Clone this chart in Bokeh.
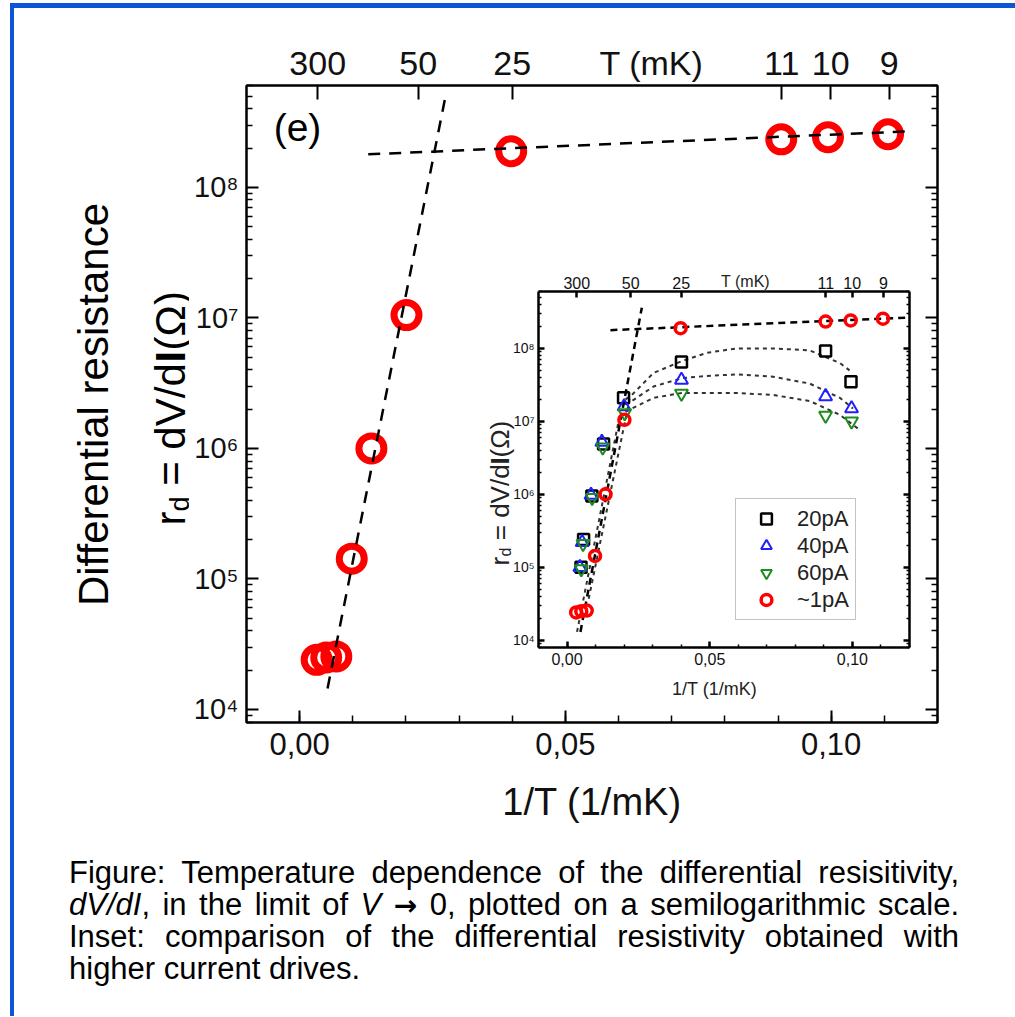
import math
from bokeh.plotting import figure
from bokeh.models import (Range1d, LogScale, LinearAxis, LogAxis, FixedTicker,
                          Label, Legend, LegendItem, Div)
from bokeh.layouts import column, row
from bokeh.embed import file_html
from bokeh.resources import INLINE

# ---------------- data ----------------
X_TICKS = [0.0, 0.05, 0.10]
X_TICK_LABELS = ["0,00", "0,05", "0,10"]
T_TICK_POS = [0.0034, 0.0223, 0.0400, 0.0907, 0.0999, 0.1109]
T_TICK_LABELS = ["300", "50", "25", "11", "10", "9"]
Y_TICKS = [1e4, 1e5, 1e6, 1e7, 1e8]
Y_TICK_LABELS = ["10\u2074", "10\u2075", "10\u2076", "10\u2077", "10\u2078"]

invT_1pA = [0.0032, 0.0050, 0.0069, 0.0098, 0.0135, 0.0201, 0.0398, 0.0906, 0.0994, 0.1107]
rd_1pA = [2.4e4, 2.5e4, 2.55e4, 1.43e5, 1.0e6, 1.05e7, 1.89e8, 2.33e8, 2.42e8, 2.55e8]

invT_20pA = [0.0049, 0.0058, 0.0087, 0.0128, 0.0198, 0.0401, 0.0906, 0.0995]
rd_20pA = [1.0e5, 2.4e5, 9.5e5, 4.9e6, 2.1e7, 6.5e7, 9.2e7, 3.5e7]
invT_40pA = [0.0045, 0.0053, 0.0084, 0.0122, 0.0200, 0.0401, 0.0906, 0.0997]
rd_40pA = [1.0e5, 2.2e5, 9.8e5, 5.2e6, 1.6e7, 3.7e7, 2.2e7, 1.5e7]
invT_60pA = [0.0050, 0.0056, 0.0088, 0.0125, 0.0202, 0.0401, 0.0906, 0.0997]
rd_60pA = [9.5e4, 2.1e5, 9.0e5, 4.4e6, 1.3e7, 2.4e7, 1.2e7, 1.0e7]

steep_x = [0.00525, 0.0274]
steep_y = [1.45e4, 4.9e8]
flat_x = [0.0129, 0.1152]
flat_y = [1.79e8, 2.69e8]

in_steep_x = [0.0047, 0.0262]
in_steep_y = [1.3e4, 3.6e8]
in_flat_x = [0.0152, 0.1189]
in_flat_y = [1.78e8, 2.63e8]

fit20_x = [0.0205, 0.0227, 0.0303, 0.0402, 0.0490, 0.0594, 0.0722, 0.0850, 0.0956, 0.0990]
fit20_y = [2.0e7, 2.3e7, 4.6e7, 6.7e7, 8.7e7, 1.0e8, 1.0e8, 9.4e7, 6.3e7, 5.0e7]
fit40_x = [0.0205, 0.0227, 0.0303, 0.0402, 0.0490, 0.0594, 0.0722, 0.0850, 0.0956, 0.1002]
fit40_y = [1.7e7, 1.9e7, 3.0e7, 3.9e7, 4.2e7, 4.4e7, 4.1e7, 3.3e7, 2.1e7, 1.5e7]
fit60_x = [0.0205, 0.0227, 0.0303, 0.0402, 0.0490, 0.0594, 0.0722, 0.0850, 0.0956, 0.1026]
fit60_y = [1.35e7, 1.5e7, 2.1e7, 2.45e7, 2.45e7, 2.45e7, 2.3e7, 1.9e7, 1.23e7, 7.6e6]
steepA_x = [0.0035, 0.0187]
steepA_y = [1.3e4, 1.35e7]
steepB_x = [0.0076, 0.0222]
steepB_y = [3.7e4, 2.3e7]

LEGEND_LABELS = ["20pA", "40pA", "60pA", "~1pA"]

CAPTION_LINES = [
    "Figure: Temperature dependence of the differential resisitivity,",
    "<i>dV/dI</i>, in the limit of <i>V</i> "
    "<b style=\"font-family:'DejaVu Sans';font-size:28px\">&#8594;</b> 0, "
    "plotted on a semilogarithmic scale.",
    "Inset: comparison of the differential resistivity obtained with",
    "higher current drives.",
]

# ---------------- geometry (page pixels; Bokeh page has no body margin) ----------------
OX, OY = 14, 8            # top-left of the plot row on the page
TW = 175                  # width of the strip that carries the y title
FW, FH = 996, 840         # total width / height of the plot row
PX0 = OX + TW             # left edge of the main figure
FL, FR, FT, FB = 246, 937, 85, 722     # main frame
IL, IR, IT, IB = 538, 909, 291, 647    # inset frame
XMIN, XMAX = -0.010, 0.120
LY0, LY1 = 3.90, 8.78
FONT = "Liberation Sans"

def mx(px):
    return XMIN + (px - FL) / (FR - FL) * (XMAX - XMIN)

def my(py):
    return 10 ** (LY1 - (py - FT) / (FB - FT) * (LY1 - LY0))

X_MINOR = [round(-0.01 + 0.01 * i, 3) for i in range(14)]
Y_MINOR = [m * 10 ** e for e in range(3, 9) for m in range(2, 10)
           if 10 ** LY0 <= m * 10 ** e <= 10 ** LY1]

p = figure(width=FW - TW, height=FH,
           x_range=Range1d(XMIN, XMAX), y_range=Range1d(10 ** LY0, 10 ** LY1),
           y_axis_type="log", output_backend="svg", toolbar_location=None,
           min_border_left=FL - PX0, min_border_right=OX + FW - FR,
           min_border_top=FT - OY, min_border_bottom=OY + FH - FB)
p.grid.visible = False
p.background_fill_color = "white"
p.border_fill_color = "white"
p.outline_line_color = "black"
p.outline_line_width = 2

def style_axis(ax, fs, tick_in, minor_in, standoff, lw=2):
    ax.axis_line_width = lw
    ax.axis_line_color = "black"
    ax.major_tick_in = tick_in
    ax.major_tick_out = 0
    ax.minor_tick_in = minor_in
    ax.minor_tick_out = 0
    ax.major_tick_line_width = lw
    ax.minor_tick_line_width = 1.5
    ax.major_tick_line_color = "black"
    ax.minor_tick_line_color = "black"
    ax.major_label_text_font = FONT
    ax.major_label_text_font_size = fs
    ax.major_label_text_color = "#111111"
    ax.major_label_standoff = standoff

# main bottom axis
xa = p.xaxis[0]
xa.ticker = FixedTicker(ticks=X_TICKS, minor_ticks=X_MINOR)
xa.major_label_overrides = dict(zip(X_TICKS, X_TICK_LABELS))
style_axis(xa, "31px", 12, 7, 10)
xa.axis_label = "1/T (1/mK)"
xa.axis_label_text_font = FONT
xa.axis_label_text_font_size = "38px"
xa.axis_label_text_font_style = "normal"
xa.axis_label_text_color = "#111111"
xa.axis_label_standoff = 23

# main left axis
ya = p.yaxis[0]
ya.ticker = FixedTicker(ticks=Y_TICKS, minor_ticks=Y_MINOR)
ya.major_label_overrides = dict(zip(Y_TICKS, Y_TICK_LABELS))
style_axis(ya, "29px", 12, 6, 8)

# main top axis: tick marks only (blank labels, so it takes no room) ...
ta = LinearAxis(ticker=FixedTicker(ticks=T_TICK_POS, minor_ticks=[]),
                major_label_overrides={t: "" for t in T_TICK_POS})
style_axis(ta, "1px", 14, 0, 0)
p.add_layout(ta, "above")
# ... and its labels, with "T (mK)" in the same row
T_TITLE_X = mx(651)
tl_ticks = T_TICK_POS + [T_TITLE_X]
tl_labels = T_TICK_LABELS + ["T (mK)"]
tl = LinearAxis(ticker=FixedTicker(ticks=tl_ticks, minor_ticks=[]),
                major_label_overrides=dict(zip(tl_ticks, tl_labels)))
style_axis(tl, "34px", 0, 0, 4)
tl.axis_line_color = None
tl.major_tick_line_color = None
tl.minor_tick_line_color = None
p.add_layout(tl, "above")

# main right axis
ra = LogAxis(ticker=FixedTicker(ticks=Y_TICKS, minor_ticks=Y_MINOR),
             major_label_overrides={t: "" for t in Y_TICKS})
style_axis(ra, "10px", 12, 6, 2)
p.add_layout(ra, "right")

# main data
p.scatter(invT_1pA, rd_1pA, marker="circle", size=25, fill_color=None,
          line_color="#ff0000", line_width=7)
p.line(steep_x, steep_y, line_color="black", line_width=2.5, line_dash="12 9")
p.line(flat_x, flat_y, line_color="black", line_width=2.5, line_dash="12 9")

# ---------------- inset via extra ranges ----------------
sx = (XMAX - XMIN) / (IR - IL)
ix0 = XMIN - (IL - FL) * sx
ix1 = XMAX + (FR - IR) * sx
sy = (LY1 - LY0) / (IB - IT)
iy0 = LY0 - (FB - IB) * sy
iy1 = LY1 + (IT - FT) * sy
p.extra_x_ranges = {"ix": Range1d(ix0, ix1)}
p.extra_y_ranges = {"iy": Range1d(10 ** iy0, 10 ** iy1)}
p.extra_y_scales = {"iy": LogScale()}
R = dict(x_range_name="ix", y_range_name="iy")

for fx, fy in [(fit20_x, fit20_y), (fit40_x, fit40_y), (fit60_x, fit60_y),
               (steepA_x, steepA_y), (steepB_x, steepB_y)]:
    p.line(fx, fy, line_color="#333333", line_width=2, line_dash="4 4", **R)
p.line(in_steep_x, in_steep_y, line_color="black", line_width=2.5, line_dash="7 5", **R)
p.line(in_flat_x, in_flat_y, line_color="black", line_width=2.5, line_dash="7 5", **R)

r20 = p.scatter(invT_20pA, rd_20pA, marker="square", size=11, fill_color=None,
                line_color="black", line_width=2.5, **R)
r40 = p.scatter(invT_40pA, rd_40pA, marker="triangle", size=13, fill_color=None,
                line_color="#1f1fff", line_width=2, **R)
r60 = p.scatter(invT_60pA, rd_60pA, marker="inverted_triangle", size=13, fill_color=None,
                line_color="#1e8c1e", line_width=2, **R)
r1 = p.scatter(invT_1pA, rd_1pA, marker="circle", size=11, fill_color=None,
               line_color="#ff0000", line_width=3.5, **R)

ib = LinearAxis(fixed_location=10 ** LY0, bounds=(XMIN, XMAX),
                ticker=FixedTicker(ticks=X_TICKS, minor_ticks=X_MINOR),
                major_label_overrides=dict(zip(X_TICKS, X_TICK_LABELS)), **R)
style_axis(ib, "16px", 6, 3, 5, lw=2.5)
p.add_layout(ib, "below")

il = LogAxis(fixed_location=XMIN, bounds=(10 ** LY0, 10 ** LY1),
             ticker=FixedTicker(ticks=Y_TICKS, minor_ticks=Y_MINOR),
             major_label_overrides=dict(zip(Y_TICKS, Y_TICK_LABELS)), **R)
style_axis(il, "14px", 6, 3, 4, lw=2.5)
p.add_layout(il, "left")

it = LinearAxis(fixed_location=10 ** LY1, bounds=(XMIN, XMAX),
                ticker=FixedTicker(ticks=T_TICK_POS, minor_ticks=[]),
                major_label_overrides=dict(zip(T_TICK_POS, T_TICK_LABELS)), **R)
style_axis(it, "16px", 6, 0, 3, lw=2.5)
p.add_layout(it, "above")

ir = LogAxis(fixed_location=XMAX, bounds=(10 ** LY0, 10 ** LY1),
             ticker=FixedTicker(ticks=Y_TICKS, minor_ticks=Y_MINOR),
             major_label_overrides={t: "" for t in Y_TICKS}, **R)
style_axis(ir, "8px", 6, 3, 2, lw=2.5)
p.add_layout(ir, "right")

legend = Legend(items=[LegendItem(label=LEGEND_LABELS[0], renderers=[r20]),
                       LegendItem(label=LEGEND_LABELS[1], renderers=[r40]),
                       LegendItem(label=LEGEND_LABELS[2], renderers=[r60]),
                       LegendItem(label=LEGEND_LABELS[3], renderers=[r1])],
                location=(735 - FL, FB - 620), orientation="vertical",
                padding=6, spacing=0, margin=0, glyph_width=48, glyph_height=27,
                label_standoff=7, label_text_font=FONT, label_text_font_size="22px",
                label_text_color="#222222",
                border_line_color="#888888", border_line_width=1.5,
                background_fill_color="white", background_fill_alpha=1.0)
p.add_layout(legend)

NB = "\u00a0"
V = math.pi / 2

def lab(fig, x, y, text, size, align="center", baseline="middle", angle=0.0,
        style="normal", color="black"):
    fig.add_layout(Label(x=x, y=y, text=text, text_font=FONT,
                         text_font_size=size, text_align=align, text_baseline=baseline,
                         angle=angle, text_font_style=style, text_color=color))

# texts inside the main frame
lab(p, mx(297), my(127), "(e)", "39px")
lab(p, mx(745), my(281), "T (mK)", "16px", color="#222222")
lab(p, mx(714), my(688), "1/T (1/mK)", "18px", color="#222222")
ib_base = 499
lab(p, mx(ib_base), my(565), "r", "26px", "left", "alphabetic", V, color="#222222")
lab(p, mx(ib_base + 6), my(556), "d", "16px", "left", "alphabetic", V, color="#222222")
lab(p, mx(ib_base), my(547), NB + "=" + NB + "dV/d", "26px", "left", "alphabetic", V, color="#222222")
lab(p, mx(ib_base), my(464), "I", "26px", "left", "alphabetic", V, style="bold", color="#222222")
lab(p, mx(ib_base), my(457), "(\u03a9)", "26px", "left", "alphabetic", V, color="#222222")

# ---------------- strip carrying the main y title ----------------
# its frame is aligned with the main frame by the row layout (page y FT..FB)
tf = figure(width=TW, height=FH, x_range=Range1d(OX, OX + TW), y_range=Range1d(FB, FT),
            output_backend="svg", toolbar_location=None, min_border=0,
            x_axis_location=None, y_axis_location=None)
tf.outline_line_color = None
tf.grid.visible = False
tf.background_fill_color = "white"
tf.border_fill_color = "white"

lab(tf, 93, 404, "Differential resistance", "42px", angle=V)
base = 170
lab(tf, base, 525, "r", "42px", "left", "alphabetic", V)
lab(tf, base + 9, 511, "d", "27px", "left", "alphabetic", V)
lab(tf, base, 497, NB + "=" + NB + "dV/d", "42px", "left", "alphabetic", V)
lab(tf, base, 362, "I", "42px", "left", "alphabetic", V, style="bold")
lab(tf, base, 350, "(\u03a9)", "42px", "left", "alphabetic", V)

# caption: one block per printed line (justified like the original)
line_html = []
for i, txt in enumerate(CAPTION_LINES):
    last = "justify" if i < len(CAPTION_LINES) - 1 else "left"
    line_html.append('<div style="height:32px;line-height:32px;white-space:nowrap;'
                     'text-align:justify;text-align-last:%s;">%s</div>' % (last, txt))
cap = Div(text=('<div style="font-family:\'Liberation Sans\',Arial,sans-serif;'
                'font-size:31px;width:890px;margin-left:50px;padding-top:4px;color:#000;">'
                + "".join(line_html) + '</div>'),
          width=FW, height=158)

layout = column(row(tf, p), cap,
                styles={"border-top": "5px solid #0b55d6",
                        "border-left": "4px solid #0b55d6",
                        "border-right": "2px solid #86a8ee",
                        "margin-top": "3px", "margin-left": "10px",
                        "background": "white"})

open("out.html", "w").write(file_html(layout, INLINE))
